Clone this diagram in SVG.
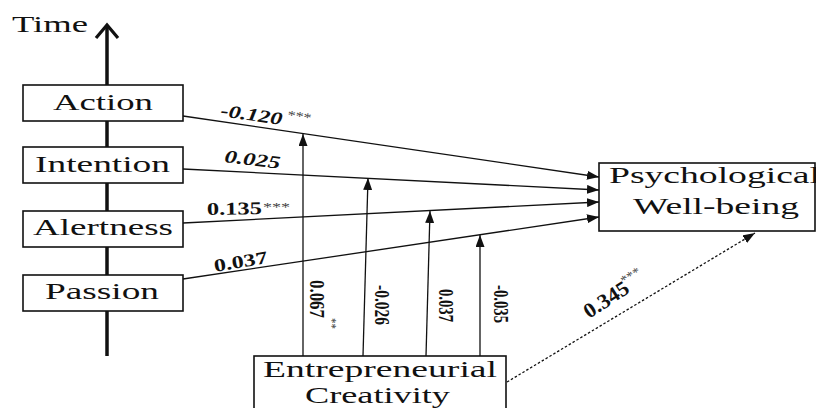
<svg xmlns="http://www.w3.org/2000/svg" width="816" height="408" viewBox="0 0 816 408">
<style>
  .box { fill: #fff; stroke: #111; stroke-width: 1.6; }
  text { font-family: 'Liberation Serif', 'Times New Roman', 'DejaVu Serif', serif; fill: #111; }
  .node { font-size: 24px; }
  .edge { stroke: #111; stroke-width: 1.3; fill: none; }
  .lbl { font-size: 18px; font-weight: bold; }
  .star { font-size: 13px; fill: #444; }
  .vlbl { font-size: 21px; font-weight: bold; }
</style>
<defs>
  <marker id="ah" markerUnits="userSpaceOnUse" markerWidth="13" markerHeight="9" refX="12" refY="4.5" orient="auto">
    <path d="M0,0 L12,4.5 L0,9 z" fill="#111"/>
  </marker>
</defs>
<rect width="816" height="408" fill="#fff"/>

<g id="time-axis">
  <line x1="107" y1="25" x2="107" y2="356" stroke="#111" stroke-width="3.5"/>
  <polyline points="96,38 107,25 118,38" fill="none" stroke="#111" stroke-width="3.2"/>
  <text class="node" x="12" y="32" font-size="22" textLength="76" lengthAdjust="spacingAndGlyphs">Time</text>
</g>

<g id="connectors">
  <line class="edge" x1="183" y1="116" x2="599" y2="177" marker-end="url(#ah)"/>
  <line class="edge" x1="183" y1="169" x2="599" y2="190" marker-end="url(#ah)"/>
  <line class="edge" x1="183" y1="223" x2="599" y2="202" marker-end="url(#ah)"/>
  <line class="edge" x1="183" y1="279" x2="599" y2="217" marker-end="url(#ah)"/>
  <line class="edge" x1="303" y1="356" x2="303" y2="134" marker-end="url(#ah)"/>
  <line class="edge" x1="363" y1="356" x2="368" y2="178" marker-end="url(#ah)"/>
  <line class="edge" x1="426" y1="356" x2="430" y2="211" marker-end="url(#ah)"/>
  <line class="edge" x1="480" y1="356" x2="480" y2="235" marker-end="url(#ah)"/>
  <line class="edge" x1="507" y1="382" x2="755" y2="233" stroke-dasharray="2.5,2" stroke-width="1.2" marker-end="url(#ah)"/>

  <text class="lbl" font-style="italic" transform="translate(220,116) rotate(8.4)" textLength="62" lengthAdjust="spacingAndGlyphs">-0.120</text>
  <text class="star" transform="translate(287,119) rotate(8)" textLength="24" lengthAdjust="spacingAndGlyphs">***</text>
  <text class="lbl" font-style="italic" transform="translate(224,162) rotate(7)" textLength="56" lengthAdjust="spacingAndGlyphs">0.025</text>
  <text class="lbl" transform="translate(207,215) rotate(-1)" textLength="55" lengthAdjust="spacingAndGlyphs">0.135</text>
  <text class="star" x="263" y="211" textLength="27" lengthAdjust="spacingAndGlyphs">***</text>
  <text class="lbl" transform="translate(215,272) rotate(-9.5)" textLength="54" lengthAdjust="spacingAndGlyphs">0.037</text>

  <text class="vlbl" transform="translate(310,280) rotate(90)" textLength="38" lengthAdjust="spacingAndGlyphs">0.067</text>
  <text class="star" transform="translate(328,318) rotate(90)" textLength="11" lengthAdjust="spacingAndGlyphs">**</text>
  <text class="vlbl" transform="translate(375,285) rotate(90)" textLength="40" lengthAdjust="spacingAndGlyphs">-0.026</text>
  <text class="vlbl" transform="translate(439,289) rotate(90)" textLength="33" lengthAdjust="spacingAndGlyphs">0.037</text>
  <text class="vlbl" transform="translate(494,285) rotate(90)" textLength="38" lengthAdjust="spacingAndGlyphs">-0.035</text>

  <text class="vlbl" font-size="20" transform="translate(589,319) rotate(-33)" textLength="50" lengthAdjust="spacingAndGlyphs">0.345</text>
  <text class="star" transform="translate(624,285) rotate(-33)" textLength="21" lengthAdjust="spacingAndGlyphs">***</text>
</g>

<g id="action">
  <rect class="box" x="23" y="85" width="160" height="36"/>
  <text class="node" x="53" y="110" textLength="100" lengthAdjust="spacingAndGlyphs">Action</text>
</g>
<g id="intention">
  <rect class="box" x="23" y="147" width="160" height="36"/>
  <text class="node" x="35" y="172" textLength="135" lengthAdjust="spacingAndGlyphs">Intention</text>
</g>
<g id="alertness">
  <rect class="box" x="23" y="211" width="160" height="36"/>
  <text class="node" x="33" y="235" textLength="140" lengthAdjust="spacingAndGlyphs">Alertness</text>
</g>
<g id="passion">
  <rect class="box" x="23" y="275" width="160" height="36"/>
  <text class="node" x="45" y="299" textLength="114" lengthAdjust="spacingAndGlyphs">Passion</text>
</g>
<g id="psychological-well-being">
  <rect class="box" x="599" y="163" width="216" height="68"/>
  <text class="node" x="609" y="183" textLength="211" lengthAdjust="spacingAndGlyphs">Psychological</text>
  <text class="node" x="633" y="214" textLength="166" lengthAdjust="spacingAndGlyphs">Well-being</text>
</g>
<g id="entrepreneurial-creativity">
  <rect class="box" x="254" y="356" width="252" height="60"/>
  <text class="node" x="263" y="377" textLength="234" lengthAdjust="spacingAndGlyphs">Entrepreneurial</text>
  <text class="node" x="305" y="403" textLength="145" lengthAdjust="spacingAndGlyphs">Creativity</text>
</g>
</svg>
